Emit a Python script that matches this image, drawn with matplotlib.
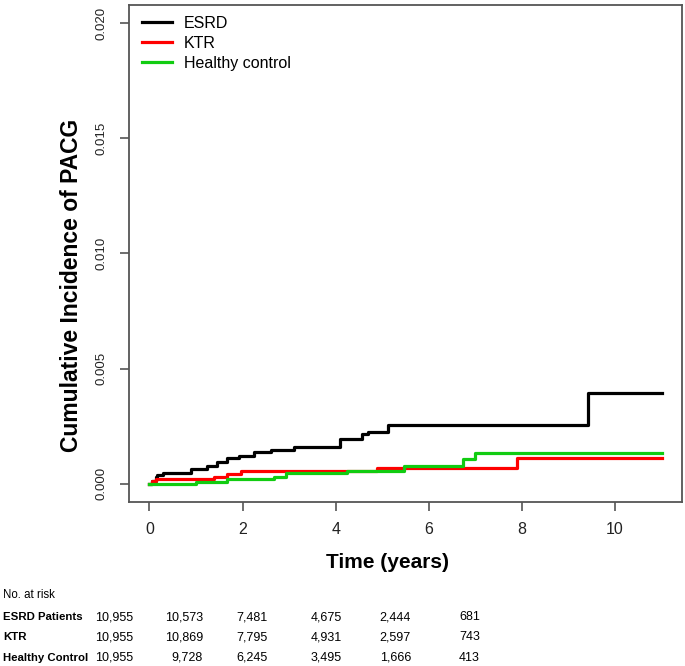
import matplotlib
matplotlib.use("Agg")
import matplotlib.pyplot as plt

# cumulative incidence step curves (time in years, incidence x 1e-3)
esrd_t = [0, 0.06, 0.13, 0.17, 0.28, 0.90, 1.24, 1.46, 1.67, 1.93, 2.25, 2.62,
          3.11, 4.10, 4.57, 4.70, 5.13, 9.42, 11.0]
esrd_y = [0, 0.13, 0.30, 0.39, 0.48, 0.65, 0.78, 0.95, 1.13, 1.21, 1.39, 1.48,
          1.61, 1.95, 2.17, 2.26, 2.56, 3.95, 3.95]

ktr_t = [0, 0.06, 0.15, 1.39, 1.67, 1.97, 4.88, 7.90, 11.0]
ktr_y = [0, 0.13, 0.22, 0.30, 0.43, 0.56, 0.69, 1.13, 1.13]

hc_t = [0, 1.01, 1.67, 2.68, 2.94, 4.25, 5.47, 6.74, 7.00, 11.0]
hc_y = [0, 0.09, 0.22, 0.30, 0.45, 0.56, 0.78, 1.07, 1.34, 1.34]

legend_labels = ["ESRD", "KTR", "Healthy control"]

# number at risk table
risk_groups = ["ESRD Patients", "KTR", "Healthy Control"]
risk_esrd = [10955, 10573, 7481, 4675, 2444, 681]
risk_ktr = [10955, 10869, 7795, 4931, 2597, 743]
risk_hc = [10955, 9728, 6245, 3495, 1666, 413]

W, H = 685, 666
fig = plt.figure(figsize=(W / 100, H / 100), dpi=100)
ax = fig.add_axes([129 / W, 1 - 502 / H, (682 - 129) / W, (502 - 5) / H])

lw = 2.3
ax.step(esrd_t, [v / 1000 for v in esrd_y], where="post", color="black", lw=lw, label=legend_labels[0])
ax.step(ktr_t, [v / 1000 for v in ktr_y], where="post", color="#ff0000", lw=lw, label=legend_labels[1])
ax.step(hc_t, [v / 1000 for v in hc_y], where="post", color="#11cc11", lw=lw, label=legend_labels[2])

ax.set_xlim(-0.44, 11.44)
ax.set_ylim(-0.0008, 0.0208)
ax.set_xticks([0, 2, 4, 6, 8, 10])
ax.set_yticks([0, 0.005, 0.010, 0.015, 0.020])
ax.set_yticklabels(["0.000", "0.005", "0.010", "0.015", "0.020"], rotation=90, va="center",
                   family="Liberation Sans", fontsize=9.5)
for lab in ax.get_xticklabels():
    lab.set_family("Liberation Sans")
    lab.set_fontsize(11.5)

for sp in ax.spines.values():
    sp.set_color("#555555")
    sp.set_linewidth(1.3)
ax.tick_params(axis="both", direction="out", length=6.5, width=1.2, color="#555555", labelcolor="#222222")
ax.tick_params(axis="x", pad=8)
ax.tick_params(axis="y", pad=9)

fig.text(72 / W, 1 - 285 / H, "Cumulative Incidence of PACG", fontsize=16.5, fontweight="bold",
         family="Liberation Sans", rotation=90, ha="center", va="center")
fig.text(388 / W, 1 - 563 / H, "Time (years)", fontsize=15, fontweight="bold",
         family="Liberation Sans", ha="center", va="center")

ax.legend(loc="upper left", bbox_to_anchor=(142 / W, 1 - 16 / H), bbox_transform=fig.transFigure,
          frameon=False, borderpad=0, borderaxespad=0, handlelength=1.9, handletextpad=0.7,
          labelspacing=0.3, prop={"family": "Liberation Sans", "size": 11.5})

# risk table
fig.text(3 / W, 1 - 595 / H, "No. at risk", fontsize=8.3, family="Liberation Sans", va="center")
col_right = [133, 203, 268, 342, 411, 480]
row_y = [617, 637, 658]
for name, vals, yy in zip(risk_groups, [risk_esrd, risk_ktr, risk_hc], row_y):
    fig.text(3 / W, 1 - yy / H, name, fontsize=8.2, fontweight="bold", family="Liberation Sans", va="center")
    for v, xx in zip(vals, col_right):
        fig.text(xx / W, 1 - yy / H, f"{v:,}", fontsize=9, family="Liberation Sans", va="center", ha="right")

fig.savefig("out.png", dpi=100)
